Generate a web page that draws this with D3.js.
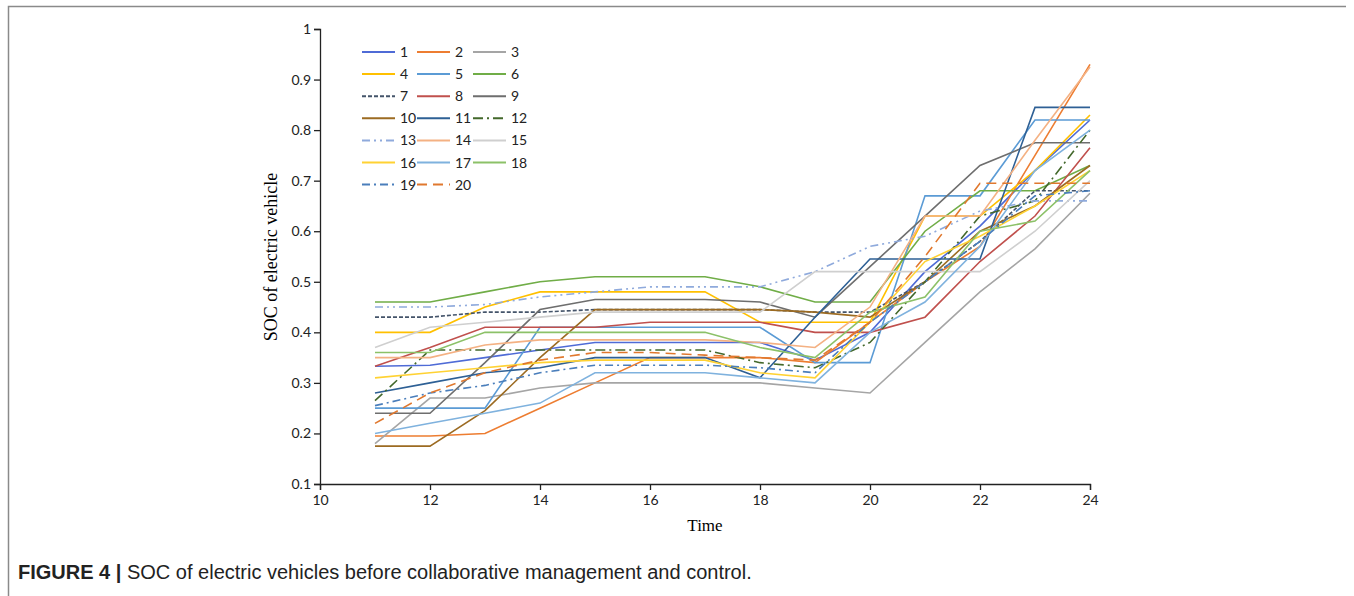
<!DOCTYPE html>
<html>
<head>
<meta charset="utf-8">
<script src="https://cdn.jsdelivr.net/npm/d3@7"></script>
<style>
body { margin: 0; background: #fff; }
svg { display: block; }
.tick text { font-family: Lato, "Open Sans", sans-serif; font-size: 14px; fill: #222; }
.axis path, .axis line { stroke: #222; stroke-width: 1.3px; }
.legend text { font-family: Lato, "Open Sans", sans-serif; font-size: 14px; fill: #222; }
</style>
</head>
<body>
<script>
// hours of the day
var hours = [11, 12, 13, 14, 15, 16, 17, 18, 19, 20, 21, 22, 23, 24];
var xTicks = [10, 12, 14, 16, 18, 20, 22, 24];
var yTicks = [0.1, 0.2, 0.3, 0.4, 0.5, 0.6, 0.7, 0.8, 0.9, 1];
var evNames = ["1", "2", "3", "4", "5", "6", "7", "8", "9", "10",
               "11", "12", "13", "14", "15", "16", "17", "18", "19", "20"];

// SOC of each vehicle
var soc1  = [0.333, 0.335, 0.35, 0.365, 0.38, 0.38, 0.38, 0.38, 0.345, 0.40, 0.52, 0.61, 0.72, 0.82];
var soc2  = [0.195, 0.195, 0.20, 0.25, 0.30, 0.35, 0.35, 0.35, 0.34, 0.42, 0.50, 0.57, 0.75, 0.93];
var soc3  = [0.18, 0.27, 0.27, 0.29, 0.30, 0.30, 0.30, 0.30, 0.29, 0.28, 0.38, 0.48, 0.565, 0.675];
var soc4  = [0.40, 0.40, 0.45, 0.48, 0.48, 0.48, 0.48, 0.42, 0.42, 0.42, 0.63, 0.63, 0.72, 0.83];
var soc5  = [0.25, 0.25, 0.25, 0.41, 0.41, 0.41, 0.41, 0.41, 0.34, 0.34, 0.67, 0.67, 0.82, 0.82];
var soc6  = [0.46, 0.46, 0.48, 0.50, 0.51, 0.51, 0.51, 0.49, 0.46, 0.46, 0.60, 0.68, 0.68, 0.73];
var soc7  = [0.43, 0.43, 0.44, 0.44, 0.445, 0.445, 0.445, 0.445, 0.44, 0.44, 0.50, 0.58, 0.68, 0.68];
var soc8  = [0.333, 0.37, 0.41, 0.41, 0.41, 0.42, 0.42, 0.42, 0.40, 0.40, 0.43, 0.54, 0.63, 0.765];
var soc9  = [0.24, 0.24, 0.34, 0.445, 0.465, 0.465, 0.465, 0.46, 0.43, 0.53, 0.63, 0.73, 0.775, 0.775];
var soc10 = [0.175, 0.175, 0.245, 0.35, 0.445, 0.445, 0.445, 0.445, 0.44, 0.43, 0.50, 0.60, 0.65, 0.73];
var soc11 = [0.28, 0.30, 0.32, 0.33, 0.35, 0.35, 0.35, 0.31, 0.43, 0.545, 0.545, 0.545, 0.845, 0.845];
var soc12 = [0.265, 0.365, 0.365, 0.365, 0.365, 0.365, 0.365, 0.34, 0.33, 0.38, 0.50, 0.63, 0.66, 0.80];
var soc13 = [0.45, 0.45, 0.455, 0.47, 0.48, 0.49, 0.49, 0.49, 0.52, 0.57, 0.59, 0.64, 0.66, 0.66];
var soc14 = [0.35, 0.35, 0.375, 0.385, 0.385, 0.385, 0.385, 0.38, 0.37, 0.45, 0.63, 0.63, 0.78, 0.925];
var soc15 = [0.37, 0.41, 0.42, 0.43, 0.44, 0.44, 0.44, 0.44, 0.52, 0.52, 0.52, 0.52, 0.60, 0.70];
var soc16 = [0.31, 0.32, 0.33, 0.34, 0.345, 0.345, 0.345, 0.32, 0.31, 0.42, 0.54, 0.59, 0.65, 0.72];
var soc17 = [0.20, 0.22, 0.24, 0.26, 0.32, 0.32, 0.32, 0.31, 0.30, 0.40, 0.46, 0.57, 0.72, 0.80];
var soc18 = [0.36, 0.36, 0.40, 0.40, 0.40, 0.40, 0.40, 0.37, 0.35, 0.44, 0.47, 0.60, 0.62, 0.72];
var soc19 = [0.255, 0.28, 0.295, 0.32, 0.335, 0.335, 0.335, 0.33, 0.32, 0.42, 0.50, 0.58, 0.67, 0.68];
var soc20 = [0.22, 0.28, 0.32, 0.345, 0.36, 0.36, 0.355, 0.35, 0.345, 0.42, 0.55, 0.695, 0.695, 0.695];

var allSoc = [soc1, soc2, soc3, soc4, soc5, soc6, soc7, soc8, soc9, soc10,
              soc11, soc12, soc13, soc14, soc15, soc16, soc17, soc18, soc19, soc20];

var colors = ["#4F6BD6", "#ED7D31", "#A5A5A5", "#FFC000", "#5B9BD5", "#70AD47", "#44546A", "#C0504D",
              "#6E6E6E", "#9C6B22", "#2E6095", "#43682B", "#8FAADC", "#F4B183", "#CFCFCF", "#FFD233",
              "#7FB2DE", "#8CC168", "#4A7EBB", "#E0782E"];
var dashes = [null, null, null, null, null, null, "4,2", null, null, null,
              null, "10,4,2,4", "8,4,2,4,2,4", null, null, null, null, null, "8,4,2,4", "10,6"];

var W = 1354, H = 596;
var svg = d3.select("body").append("svg").attr("width", W).attr("height", H);

// frame lines of the figure panel
svg.append("path").attr("d", "M8.5,596V6.5H1346")
   .attr("fill", "none").attr("stroke", "#8a8a8a").attr("stroke-width", 1.5);

var x = d3.scaleLinear().domain([10, 24]).range([320, 1090]);
var y = d3.scaleLinear().domain([0.1, 1]).range([484, 29]);

svg.append("g").attr("class", "axis").attr("transform", "translate(0,484)")
   .call(d3.axisBottom(x).tickValues(xTicks).tickSizeOuter(0).tickSize(6).tickPadding(5));
svg.append("g").attr("class", "axis").attr("transform", "translate(320,0)")
   .call(d3.axisLeft(y).tickValues(yTicks).tickSizeOuter(0).tickSize(6).tickPadding(3)
   .tickFormat(function(d) { return d3.format("~g")(+d.toFixed(1)); }));

var line = d3.line()
  .x(function(d, i) { return x(hours[i]); })
  .y(function(d) { return y(d); });

svg.append("g").selectAll("path").data(allSoc).enter().append("path")
   .attr("d", line)
   .attr("fill", "none")
   .attr("stroke", function(d, i) { return colors[i]; })
   .attr("stroke-width", 1.6)
   .attr("stroke-dasharray", function(d, i) { return dashes[i]; });

// legend, 3 columns
var legend = svg.append("g").attr("class", "legend");
var colX = [362, 417, 473], rowY0 = 52, rowH = 22.1;
evNames.forEach(function(name, i) {
  var cx = colX[i % 3], cy = rowY0 + Math.floor(i / 3) * rowH;
  legend.append("line").attr("x1", cx).attr("x2", cx + 33).attr("y1", cy).attr("y2", cy)
        .attr("stroke", colors[i]).attr("stroke-width", 2)
        .attr("stroke-dasharray", dashes[i]);
  legend.append("text").attr("x", cx + 38).attr("y", cy + 5).text(name);
});

svg.append("text").attr("transform", "translate(277,257) rotate(-90)")
   .attr("text-anchor", "middle").style("font-family", "'Liberation Serif', serif")
   .style("font-size", "18px").text("SOC of electric vehicle");
svg.append("text").attr("x", 705).attr("y", 531)
   .attr("text-anchor", "middle").style("font-family", "'Liberation Serif', serif")
   .style("font-size", "17px").text("Time");

var cap = svg.append("text").attr("x", 18).attr("y", 579)
   .style("font-family", "'Liberation Sans', Arial, sans-serif").style("font-size", "20px").attr("fill", "#222");
cap.append("tspan").style("font-weight", "bold").text("FIGURE 4 | ");
cap.append("tspan").text("SOC of electric vehicles before collaborative management and control.");
</script>
</body>
</html>
